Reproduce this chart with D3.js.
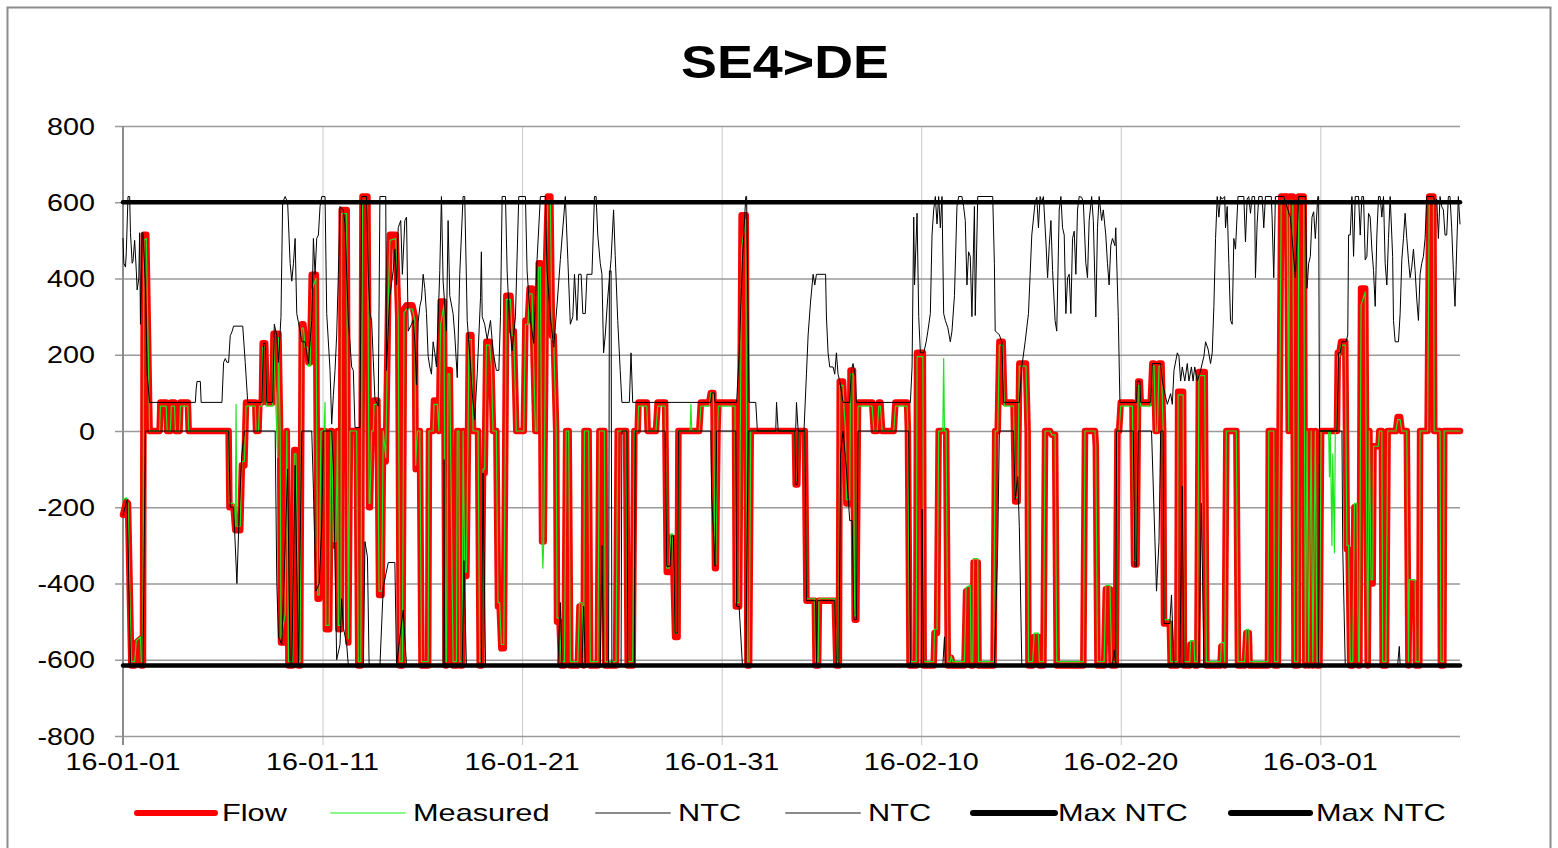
<!DOCTYPE html>
<html>
<head>
<meta charset="utf-8">
<script src="https://cdn.jsdelivr.net/npm/d3@7"></script>
<style>
  body { margin: 0; background: #fff; }
  svg { display: block; font-family: "Liberation Sans", Arial, sans-serif; }
</style>
</head>
<body>
<svg id="chart" width="1558" height="848"></svg>
<script>
// hours since 2016-01-01 00:00, MW
const flow = [
  [0,-220],[4,-185],[6,-190],[10,-615],[14,-615],[16,-555],[21,-545],[22,-615],[24,-615],[25,515],[28,515],[32,0],[44,0],[45,75],[52,75],[53,0],[57,0],[58,75],[62,75],[63,0],[68,0],[69,75],[78,75],[79,0],[127,0],[128,-200],[133,-200],[135,-260],[141,-260],[143,-90],[146,-90],[148,75],[159,75],[160,0],[163,0],[164,75],[167,75],[168,230],[171,230],[173,75],[180,75],[181,255],[187,255],[189,0],[190,-555],[195,-555],[197,0],[199,-615],[204,-615],[206,-50],[208,-50],[210,-340],[211,-615],[213,-615],[215,280],[217,280],[219,230],[222,230],[223,180],[225,180],[227,410],[232,410],[234,-440],[236,-440],[238,0],[243,0],[244,-520],[248,-520],[250,0],[251,0],[253,-300],[256,-300],[258,0],[259,-520],[262,-520],[263,580],[269,580],[271,-555],[273,0],[281,0],[283,-615],[286,-615],[288,615],[294,615],[296,-200],[297,-200],[299,0],[301,0],[302,80],[306,80],[308,-430],[311,-430],[313,0],[316,-80],[319,350],[321,515],[328,515],[331,300],[333,-615],[336,-615],[338,320],[341,330],[348,330],[351,300],[352,-100],[354,0],[357,0],[359,-615],[367,-615],[368,0],[373,0],[374,80],[378,80],[380,0],[382,340],[386,340],[388,-615],[389,-615],[391,160],[393,160],
  [397,-615],[401,-615],[402,0],[404,0],[405,-615],[408,-615],[409,0],[411,-380],[413,-380],[415,0],[416,252],[419,252],[421,0],[427,0],[429,-615],[431,-615],[433,-110],[435,-110],[437,234],[441,234],[443,177],[445,0],[449,0],[451,-460],[453,-460],[455,-570],[458,-570],[461,355],[466,355],[468,262],[470,262],[473,0],[482,0],[484,290],[487,290],[489,374],[492,374],[494,177],[496,0],[498,0],[500,440],[502,440],[504,-290],[506,-290],[509,458],[511,615],[514,615],[516,250],[518,250],[521,0],[522,-500],[525,-500],[527,-615],[531,-615],[533,0],[536,0],[538,-615],[547,-615],[549,-460],[552,-460],[554,-615],[555,0],[560,0],[562,-615],[571,-615],[573,0],[579,0],[580,-615],[593,-615],[595,0],[605,0],[607,-615],
  [613,-615],[615,0],[619,0],[620,75],[630,75],[631,0],[641,0],[643,75],[652,75],[654,-370],[657,-370],[659,-280],[661,-280],[664,-540],[667,-540],[668,0],[693,0],[695,75],[705,75],[707,100],[710,100],[712,-360],[713,-360],[715,0],[716,75],[736,75],[737,-460],[741,-460],[744,566],[749,566],[751,-615],[753,-615],[755,0],[808,0],[809,-140],[811,-140],[812,0],
  [820,0],[822,-445],[832,-445],[833,-615],[836,-615],[837,-445],[856,-445],[858,-615],[861,-615],[862,130],[866,130],[867,75],[869,0],[870,-190],[874,-190],[875,159],[878,159],[880,-495],[882,-495],[884,75],[901,75],[903,0],[907,0],[909,75],[911,75],[913,0],[927,0],[929,75],[943,75],[944,0],[946,-615],[954,-615],[955,205],[962,205],[963,-615],[975,-615],[976,-530],[979,-530],[981,0],[990,0],[992,-615],[995,-615],[996,-595],[998,-615],[1012,-615],[1014,-420],
  [1019,-415],[1020,-615],[1022,-615],[1023,-345],[1028,-345],[1029,-615],[1047,-615],[1049,0],[1052,0],[1054,234],[1058,234],[1060,75],[1071,75],[1073,-185],[1076,-185],[1078,177],[1086,177],[1088,0],[1089,-615],[1094,-615],[1096,-540],[1101,-540],[1102,-615],[1107,-615],[1109,0],[1115,0],[1117,-10],[1121,-10],[1123,-615],[1155,-615],[1157,0],[1169,0],[1170,-40],[1172,-615],[1180,-615],[1182,-415],[1187,-415],[1189,-615],[1194,-615],[1196,0],[1198,0],[1200,75],[1214,75],[1216,-350],[1219,-350],[1221,130],[1223,130],
  [1224,75],[1236,75],[1238,177],[1240,177],[1242,0],[1244,0],[1246,177],[1249,177],[1251,0],[1252,-505],[1259,-505],[1260,-615],[1268,-615],[1269,103],[1275,103],[1276,-615],[1283,-615],[1284,-560],[1288,-560],[1289,-615],[1292,-615],[1294,155],[1301,155],[1303,-615],[1320,-615],[1321,-565],[1324,-565],[1325,-615],[1327,0],[1339,0],[1341,-615],[1349,-615],[1351,-530],[1354,-530],[1355,-615],[1377,-615],[1378,0],[1384,0],[1385,-615],[1389,-615],[1391,0],[1393,615],[1400,615],[1402,0],[1403,615],[1407,615],[1409,-615],[1413,-615],[1414,615],
  [1420,615],[1422,-615],[1424,0],[1426,-615],[1429,0],[1431,-615],[1434,0],[1436,-615],[1439,-615],[1441,0],[1460,0],[1461,205],[1463,205],[1465,234],[1470,234],[1472,-310],[1474,-310],[1476,-615],[1479,-615],[1481,-200],[1484,-200],[1486,-615],[1487,-615],[1489,374],[1494,374],[1495,0],[1497,-615],[1499,0],[1501,-400],[1503,-400],[1504,-40],[1510,-40],[1511,0],[1514,0],[1515,-615],[1519,-615],[1521,0],[1531,0],[1533,37],[1536,37],[1538,0],[1544,0],[1546,-615],[1547,-400],[1554,-400],[1555,-615],[1559,-615],[1560,0],[1569,0],[1571,615],[1576,615],[1577,0],[1584,0],[1585,-615],[1588,-615],[1589,0],[1608,0]
];

const measured = [
  [0,-180],[4,-175],[6,-190],[10,-605],[14,-605],[16,-550],[21,-540],[22,-605],[24,-605],[25,500],[28,505],[32,0],[44,0],[45,65],[52,65],[53,0],[57,0],[58,65],[62,65],[63,0],[68,0],[69,65],[78,65],[79,0],[127,0],[128,-190],[133,-190],[135,-250],[136,70],[137,-250],[141,-250],[143,-80],[146,-80],[148,65],[159,65],[160,0],[163,0],[164,65],[167,65],[168,220],[171,220],[173,65],[180,65],[181,245],[186,-70],[187,245],[189,0],[190,-545],[195,-480],[197,0],[199,-605],[204,-605],[206,-60],[208,-60],[210,-330],[211,-605],[213,-605],[215,270],[217,270],[219,220],[222,220],[223,170],[225,170],[227,370],[232,400],[234,-430],[236,-430],[238,0],[242,0],[243,75],[244,-510],[248,-510],[250,0],[251,0],[253,-290],[256,-290],[258,0],[259,-510],[262,-510],[263,570],[269,570],[271,-545],[273,0],[281,0],[283,-605],[286,-605],[288,605],[294,605],[296,-190],[297,-190],[299,0],[301,0],[302,70],[306,70],[308,-420],[311,-420],[313,0],[316,-70],[319,340],[321,500],[328,505],[331,290],[333,-605],[336,-605],[338,310],[341,320],[348,320],[351,290],[352,-90],[354,0],[357,0],[359,-605],[367,-605],[368,0],[373,0],[374,70],[378,70],[380,0],[382,280],[386,330],[388,-605],[389,-605],[391,150],[393,150],
  [397,-605],[401,-605],[402,0],[404,0],[405,-605],[408,-605],[409,0],[411,-370],[413,-370],[415,0],[416,240],[419,240],[421,0],[427,0],[429,-605],[431,-605],[433,-100],[435,-100],[437,225],[441,225],[443,170],[445,0],[449,0],[451,-450],[453,-450],[455,-560],[458,-560],[461,345],[466,345],[468,250],[470,250],[473,0],[482,0],[484,280],[487,280],[489,360],[492,360],[494,170],[496,0],[498,0],[500,430],[502,430],[504,-290],[505,-360],[506,-290],[509,445],[511,605],[514,605],[516,240],[518,240],[521,0],[522,-490],[525,-490],[527,-605],[531,-605],[533,0],[536,0],[538,-605],[547,-605],[549,-450],[552,-450],[554,-605],[555,0],[560,0],[562,-605],[571,-605],[573,0],[579,0],[580,-605],[593,-605],[595,0],[605,0],[607,-605],
  [613,-605],[615,0],[619,0],[620,65],[630,65],[631,0],[641,0],[643,65],[652,65],[654,-360],[657,-360],[659,-270],[661,-270],[664,-530],[667,-530],[668,0],[682,0],[683,70],[684,0],[693,0],[695,65],[705,65],[707,100],[710,100],[712,-350],[713,-350],[715,0],[716,65],[736,65],[737,-450],[741,-450],[744,480],[749,555],[751,-605],[753,-605],[755,0],[808,0],[809,-130],[811,-130],[812,0],
  [820,0],[822,-440],[832,-440],[833,-605],[836,-605],[837,-440],[856,-440],[858,-605],[861,-605],[862,120],[866,120],[867,65],[869,0],[870,-180],[874,-180],[875,150],[878,150],[880,-485],[882,-485],[884,65],[901,65],[903,0],[907,0],[909,65],[911,65],[913,0],[927,0],[929,65],[943,65],[944,0],[946,-605],[954,-605],[955,195],[962,195],[963,-605],[975,-605],[976,-520],[979,-520],[981,0],[986,0],[987,190],[988,0],[990,0],[992,-605],[995,-605],[996,-590],[998,-605],[1012,-605],[1014,-410],
  [1019,-405],[1020,-605],[1022,-605],[1023,-335],[1028,-335],[1029,-605],[1047,-605],[1049,0],[1052,0],[1054,225],[1058,225],[1060,65],[1071,65],[1073,-175],[1076,-175],[1078,170],[1086,170],[1088,0],[1089,-605],[1094,-605],[1096,-530],[1101,-530],[1102,-605],[1107,-605],[1109,0],[1115,0],[1117,-10],[1121,-10],[1123,-605],[1155,-605],[1157,0],[1169,0],[1170,-40],[1172,-605],[1180,-605],[1182,-405],[1187,-405],[1189,-605],[1194,-605],[1196,0],[1198,0],[1200,65],[1214,65],[1216,-340],[1219,-340],[1221,120],[1223,120],
  [1224,65],[1236,65],[1238,170],[1240,170],[1242,0],[1244,0],[1246,170],[1249,170],[1251,0],[1252,-495],[1259,-495],[1260,-605],[1268,-605],[1269,95],[1275,95],[1276,-605],[1283,-605],[1284,-550],[1288,-550],[1289,-605],[1292,-605],[1294,145],[1301,145],[1303,-605],[1320,-605],[1321,-555],[1324,-555],[1325,-605],[1327,0],[1339,0],[1341,-605],[1349,-605],[1351,-520],[1354,-520],[1355,-605],[1377,-605],[1378,0],[1384,0],[1385,-605],[1389,-605],[1391,0],[1393,605],[1400,605],[1402,0],[1403,605],[1407,605],[1409,-605],[1413,-605],[1414,605],
  [1420,605],[1422,-605],[1424,0],[1426,-605],[1429,0],[1431,-605],[1434,0],[1436,-605],[1439,-605],[1441,0],[1450,0],[1451,-120],[1452,0],[1454,-300],[1455,-60],[1457,-320],[1458,0],[1460,0],[1461,195],[1463,195],[1465,225],[1470,225],[1472,-300],[1474,-300],[1476,-605],[1479,-605],[1481,-190],[1484,-190],[1486,-605],[1487,-605],[1489,330],[1494,365],[1495,0],[1497,-605],[1499,0],[1501,-390],[1503,-390],[1504,-40],[1510,-40],[1511,0],[1514,0],[1515,-605],[1519,-605],[1521,0],[1531,0],[1533,30],[1536,30],[1538,0],[1544,0],[1546,-605],[1547,-390],[1554,-390],[1555,-605],[1559,-605],[1560,0],[1569,0],[1571,605],[1576,605],[1577,0],[1584,0],[1585,-605],[1588,-605],[1589,0],[1608,0]
];

const ntcExport = [
  [0,505],[1,440],[3,430],[4,470],[6,615],[8,615],[9,520],[11,440],[12,445],[14,500],[16,420],[17,370],[19,400],[20,520],[21,280],[23,520],[24,520],[27,380],[29,150],[32,75],[87,75],[88,110],[89,130],[93,130],[94,75],[119,75],[121,180],[123,190],[125,180],[127,180],[129,250],[131,260],[133,275],[144,275],[147,180],[150,75],[167,75],[169,230],[171,230],[173,75],[180,75],[182,280],[185,250],[187,180],[190,300],[192,600],[195,615],[198,600],[201,440],
  [203,393],[205,440],[207,505],[209,308],[211,285],[213,262],[215,234],[219,234],[223,177],[225,234],[227,290],[229,505],[231,411],[233,505],[235,514],[237,589],[239,615],[243,615],[245,308],[249,159],[251,18],[253,93],[255,159],[257,252],[259,411],[261,589],[265,580],[267,543],[271,290],[275,168],[277,159],[279,9],[285,9],[287,615],[293,615],[295,411],[297,308],[299,290],[303,84],[307,65],[309,615],[316,615],[317,159],[319,271],[321,355],[325,421],[327,477],[329,383],[331,533],[334,552],[336,411],[339,552],[341,561],[343,262],[347,280],[349,290],[351,234],[353,121],[355,285],[357,327],[359,346],[361,411],[363,374],[365,308],[367,196],[369,168],[371,149],[373,234],[375,205],[377,168],[379,290],[381,421],[383,615],[385,393],[389,262],[391,552],[393,355],
  [397,308],[399,252],[402,140],[405,411],[409,615],[411,615],[414,290],[417,200],[420,100],[423,30],[426,150],[430,350],[431,470],[432,300],[435,280],[438,240],[442,290],[445,210],[449,159],[452,159],[454,300],[456,615],[460,615],[462,420],[465,280],[468,210],[472,300],[476,615],[484,615],[486,420],[490,290],[494,230],[498,450],[502,615],[508,615],[510,420],[514,300],[518,220],[522,330],[526,450],[532,615],[535,450],[538,280],[541,300],[543,411],[546,290],[548,411],[551,411],[553,308],[556,308],[558,411],[564,411],[567,615],[569,615],[571,514],[574,440],[576,411],[578,205],[580,252],[583,350],[587,450],[590,580],[592,460],[595,290],[598,159],[600,75],
  [609,75],[611,205],[613,75],[707,75],[708,100],[711,100],[712,75],[738,75],[741,200],[745,450],[749,615],[750,615],[753,75],[761,75],[763,0],[785,0],[786,75],[788,0],[809,0],[810,75],[812,0],
  [819,0],[822,150],[824,252],[827,341],[830,411],[832,383],[834,411],[845,411],[846,299],[848,205],[850,168],[854,168],[856,149],[858,205],[860,149],[862,131],[866,75],[874,75],[876,159],[878,177],[881,140],[882,75],[947,75],[949,168],[951,561],[952,383],[955,571],[957,300],[959,205],[963,205],[966,234],[968,262],[971,308],[973,514],[975,580],[977,615],[979,543],[981,615],[983,533],[985,615],[987,308],[989,290],[992,271],[995,234],[997,262],[1000,355],[1003,589],[1005,615],[1009,615],[1011,589],[1013,552],[1015,383],[1017,470],[1019,458],
  [1021,300],[1024,589],[1025,303],[1028,615],[1046,615],[1048,440],[1049,262],[1052,257],[1054,252],[1057,234],[1059,75],[1078,75],[1081,168],[1085,234],[1089,308],[1091,411],[1093,514],[1097,600],[1099,613],[1101,533],[1103,615],[1105,600],[1107,615],[1110,496],[1112,402],[1114,486],[1116,552],[1118,421],[1121,290],[1123,262],[1126,580],[1128,615],[1130,533],[1132,514],[1134,308],[1136,402],[1138,411],[1140,308],[1142,505],[1144,524],[1146,411],[1148,580],[1150,615],[1153,613],[1155,600],[1158,440],[1160,402],[1162,552],[1165,615],[1167,552],[1170,299],[1172,533],[1174,615],[1177,552],[1179,580],[1182,514],[1184,440],[1186,383],[1188,486],[1190,505],[1193,486],[1194,533],[1197,300],[1199,75],
  [1219,75],[1220,131],[1223,131],[1224,75],[1236,75],[1238,177],[1248,177],[1250,131],[1253,98],[1256,70],[1260,98],[1262,70],[1264,159],[1268,205],[1270,196],[1272,131],[1274,168],[1277,131],[1280,177],[1282,131],[1285,168],[1287,131],[1289,168],[1292,131],[1296,159],[1300,196],[1302,234],[1305,215],[1308,177],[1310,205],[1312,327],[1314,505],[1316,615],[1318,561],[1320,615],[1322,608],[1325,615],[1326,533],[1328,589],[1330,440],[1332,290],[1334,280],[1336,505],[1338,477],[1341,615],[1348,615],[1350,496],[1352,608],[1354,615],[1356,571],[1358,615],[1361,615],[1362,402],[1364,543],[1366,615],[1370,615],[1372,533],[1374,615],[1381,615],[1382,561],[1384,402],[1386,615],[1396,615],[1404,560],[1410,402],[1414,615],
  [1422,615],[1424,374],[1426,440],[1428,458],[1430,561],[1432,575],[1434,505],[1437,615],[1438,615],[1439,0],[1460,0],[1462,205],[1464,205],[1466,234],[1471,234],[1473,252],[1474,514],[1476,514],[1478,615],[1480,458],[1482,615],[1486,615],[1488,514],[1490,615],[1492,615],[1494,449],[1496,458],[1498,571],[1500,561],[1502,477],[1504,421],[1506,327],[1508,514],[1510,615],[1512,615],[1514,561],[1516,615],[1518,440],[1520,383],[1522,505],[1524,615],[1527,458],[1528,290],[1530,234],[1534,234],[1536,308],[1538,449],[1540,505],[1542,571],[1544,505],[1546,449],[1548,402],[1550,430],[1552,477],[1554,421],[1556,346],[1558,290],[1560,411],[1562,440],[1564,458],[1566,505],[1568,615],[1576,615],[1578,600],[1580,608],[1582,505],[1584,615],[1586,589],[1588,580],[1590,514],[1592,514],[1594,615],[1596,615],[1598,533],[1600,421],[1602,327],[1604,477],[1606,615],[1608,543]
];

const ntcImport = [
  [0,-220],[5,-180],[9,-615],[24,-615],[27,0],[127,0],[129,-200],[133,-200],[137,-400],[140,-200],[143,-60],[146,0],[183,0],[185,-400],[187,-540],[191,-560],[195,-300],[198,-100],[201,-615],[203,-615],[207,-90],[211,-615],[215,0],[227,0],[229,-150],[232,-420],[236,-400],[239,-250],[241,0],[251,0],[253,-90],[257,-600],[261,-560],[263,-440],[265,-515],[269,-560],[271,-615],[289,-615],[291,-290],[294,-330],[296,-615],[309,-615],[313,-410],[319,-345],[327,-345],[329,-615],[333,-540],[337,-470],[341,-615],[385,-615],[386,-75],[387,-615],
  [408,-615],[410,-340],[413,-615],[431,-615],[433,-110],[436,-615],[523,-615],[526,-450],[528,-615],[552,-615],[554,-460],[556,-615],[574,-615],[576,-300],[578,-615],[584,-615],[585,420],[587,420],[588,-615],[599,-615],[600,0],[606,0],[607,-615],[615,-615],[616,0],[652,0],[654,-355],[658,-355],[660,-275],[662,-275],[664,-530],[667,-530],[668,0],[707,0],[708,-170],[712,-355],[714,0],[737,0],[738,-460],[741,-460],[745,-615],[749,-615],[752,0],[808,0],[809,-140],[811,-140],[812,0],
  [820,0],[822,-445],[833,-445],[834,-615],[835,-445],[856,-445],[858,-615],[861,-615],[863,-60],[866,0],[870,-100],[874,-235],[877,-235],[879,-495],[882,-495],[884,0],[945,0],[947,-615],[960,-615],[961,-205],[963,-615],[986,-615],[988,-540],[989,-615],[1048,-615],[1052,-300],[1054,0],[1071,0],[1073,-180],[1076,-120],[1078,-250],[1081,-615],[1190,-615],[1192,-575],[1194,-615],[1195,0],[1215,0],[1217,-355],[1219,-355],[1221,0],
  [1237,0],[1243,-420],[1246,-290],[1248,0],[1251,0],[1252,-505],[1259,-505],[1261,-430],[1264,-615],[1271,-615],[1274,-145],[1276,-615],[1294,-615],[1297,-190],[1300,-615],[1438,-615],[1439,0],[1466,0],[1467,-310],[1470,-615],[1533,-615],[1535,-565],[1536,-615],[1608,-615]
];

const maxNtcExport = [[0, 600], [1608, 600]];
const maxNtcImport = [[0, -615], [1608, -615]];

const yTicks = [800, 600, 400, 200, 0, -200, -400, -600, -800];
const xTickLabels = ['16-01-01', '16-01-11', '16-01-21', '16-01-31', '16-02-10', '16-02-20', '16-03-01'];
const legendNames = ['Flow', 'Measured', 'NTC', 'NTC', 'Max NTC', 'Max NTC'];

const start = new Date(2016, 0, 1);
const end = new Date(2016, 2, 8);
const parseTick = d3.timeParse('%y-%m-%d');
const toDate = h => d3.timeHour.offset(start, h);

const svg = d3.select('#chart');
const x = d3.scaleTime().domain([start, end]).range([123, 1460]);
const y = d3.scaleLinear().domain([-800, 800]).range([736, 126]);

function stretched(sel, px, py, sx) {
  return sel.attr('transform', `translate(${px},${py}) scale(${sx},1)`);
}

svg.append('rect')
  .attr('x', 7.5).attr('y', 7.5)
  .attr('width', 1543).attr('height', 860)
  .attr('fill', '#fff')
  .attr('stroke', '#8c8c8c')
  .attr('stroke-width', 2);

stretched(svg.append('text'), 785, 78, 1.17)
  .attr('text-anchor', 'middle')
  .attr('font-size', 46)
  .attr('font-weight', 'bold')
  .text('SE4>DE');

// vertical date grid
const xTicks = xTickLabels.map(parseTick);
svg.append('g')
  .attr('transform', 'translate(0,126)')
  .call(d3.axisBottom(x).tickValues(xTicks).tickSize(619).tickFormat(''))
  .call(g => g.select('.domain').remove())
  .call(g => g.selectAll('line').attr('stroke', '#c8c8c8').attr('stroke-width', 1));

// horizontal value grid
svg.append('g')
  .attr('transform', 'translate(115,0)')
  .call(d3.axisRight(y).tickValues(yTicks).tickSize(1460 - 115).tickFormat(''))
  .call(g => g.select('.domain').remove())
  .call(g => g.selectAll('line').attr('stroke', '#9a9a9a').attr('stroke-width', 1.6));

svg.append('line')
  .attr('x1', x(start)).attr('x2', x(start))
  .attr('y1', y(800)).attr('y2', 745)
  .attr('stroke', '#8c8c8c').attr('stroke-width', 2);

svg.append('g')
  .selectAll('text')
  .data(yTicks)
  .join('text')
  .each(function (d) { stretched(d3.select(this), 95, y(d) + 8.5, 1.25); })
  .attr('text-anchor', 'end')
  .attr('font-size', 23)
  .text(d => d);

svg.append('g')
  .selectAll('text')
  .data(xTicks)
  .join('text')
  .each(function (d) { stretched(d3.select(this), x(d), 770, 1.25); })
  .attr('text-anchor', 'middle')
  .attr('font-size', 23)
  .text(d3.timeFormat('%y-%m-%d'));

const line = d3.line()
  .x(d => x(toDate(d[0])))
  .y(d => y(d[1]));

const series = [
  { data: flow, color: '#ff0000', width: 6.5 },
  { data: measured, color: '#1ee61e', width: 1.2 },
  { data: ntcExport, color: '#000', width: 1 },
  { data: ntcImport, color: '#000', width: 1 },
  { data: maxNtcExport, color: '#000', width: 4.5 },
  { data: maxNtcImport, color: '#000', width: 4.5 },
];

svg.append('g')
  .selectAll('path')
  .data(series)
  .join('path')
  .attr('d', d => line(d.data))
  .attr('fill', 'none')
  .attr('stroke', d => d.color)
  .attr('stroke-width', d => d.width)
  .attr('stroke-linejoin', 'round')
  .attr('stroke-linecap', 'round');

// legend
const legend = [
  { x1: 137, x2: 215, tx: 222, color: '#ff0000', width: 6 },
  { x1: 331, x2: 405, tx: 413, color: '#88f888', width: 2 },
  { x1: 596, x2: 670, tx: 678, color: '#8a8a8a', width: 2 },
  { x1: 786, x2: 860, tx: 868, color: '#8a8a8a', width: 2 },
  { x1: 973, x2: 1055, tx: 1058, color: '#000', width: 6 },
  { x1: 1231, x2: 1310, tx: 1316, color: '#000', width: 6 },
];
const lg = svg.append('g');
legend.forEach((item, i) => {
  lg.append('line')
    .attr('x1', item.x1).attr('x2', item.x2)
    .attr('y1', 813).attr('y2', 813)
    .attr('stroke', item.color)
    .attr('stroke-width', item.width)
    .attr('stroke-linecap', 'round');
  stretched(lg.append('text'), item.tx, 821, 1.28)
    .attr('font-size', 24)
    .text(legendNames[i]);
});
</script>
</body>
</html>
